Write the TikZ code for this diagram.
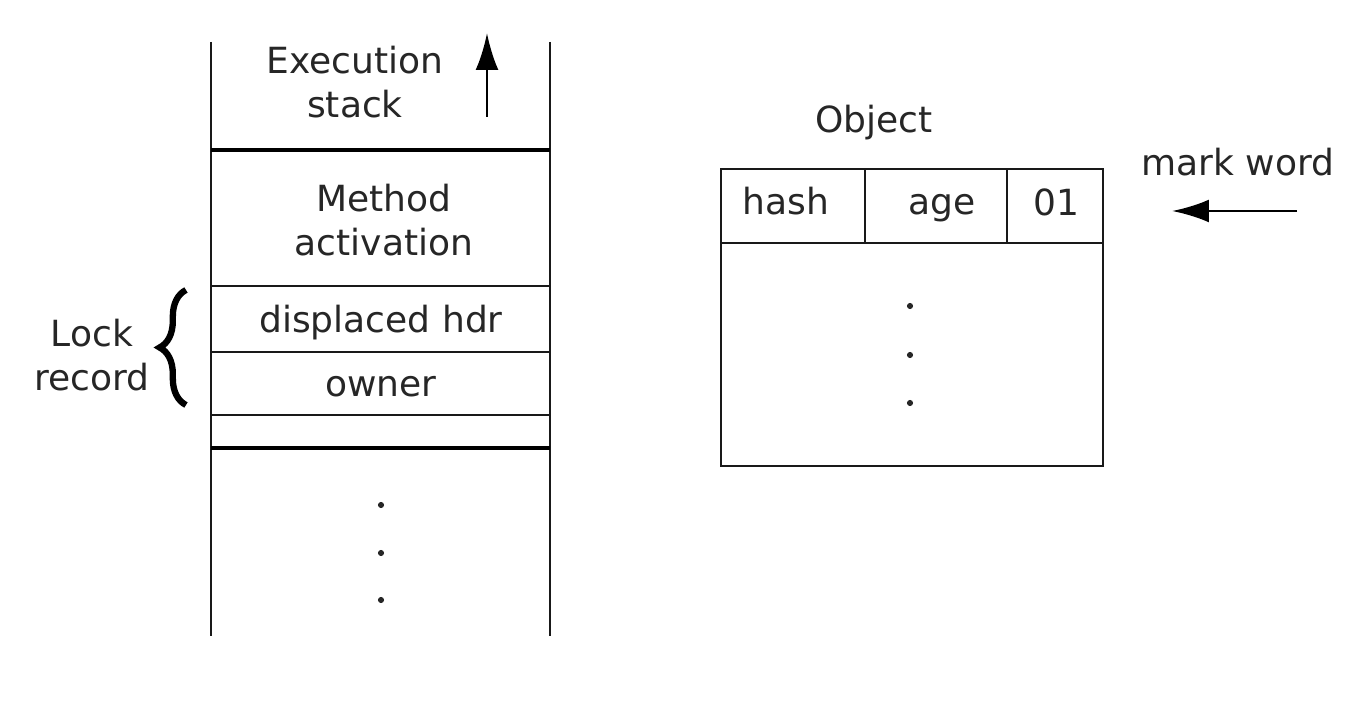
\documentclass[tikz,border=0pt]{standalone}
\usepackage{fontspec}
\setmainfont{DejaVu Sans}
\usepackage{tikz}
\usetikzlibrary{arrows.meta, positioning, decorations.pathreplacing}

\begin{document}
\begin{tikzpicture}
  [x=0.02cm, y=-0.02cm,
  txt/.style={font=\fontsize{20.5}{25}\selectfont, inner sep=0pt, text=black!85, align=center},
  line/.style={txt, anchor=base},
  thin line/.style={draw=black!90, line width=1.3pt},
  thick line/.style={draw=black, line width=2.8pt},
  dot/.style={circle, fill=black!85, inner sep=0pt, minimum size=3.5pt},
  tip/.style={-{Latex[length=21pt, width=13pt]}, line width=1.6pt}]
\useasboundingbox (0,0) rectangle (1366,705);

% Execution stack: walls and dividers
\draw[thin line] (211,42) -- (211,636);
\draw[thin line] (550,42) -- (550,636);
\draw[thick line] (211,150) -- (550,150);
\draw[thin line] (211,286) -- (550,286);
\draw[thin line] (211,352) -- (550,352);
\draw[thin line] (211,415) -- (550,415);
\draw[thick line] (211,448) -- (550,448);

% Stack labels
\node[txt] (exec) at (355,82) {Execution\\stack};
\node[txt] (meth) at (384,220) {Method\\activation};
\node[line] (disp) at (381,333) {displaced hdr};
\node[line] (own) at (381,397) {owner};
\node[dot] (sd1) at (381,505) {};
\node[dot] (sd2) at (381,553) {};
\node[dot] (sd3) at (381,600) {};

% Growth arrow
\coordinate (growlo) at (487,117);
\coordinate (growhi) at (487,33);
\draw[tip] (growlo) -- (growhi);

% Lock record brace
\coordinate (brlo) at (186,405);
\coordinate (brhi) at (186,290);
\draw[line width=3.6pt, decorate, decoration={brace, amplitude=15pt}] (brlo) -- (brhi);
\node[txt] (lock) at (92,355) {Lock\\record};

% Object header
\node[line] (obj) at (874,133) {Object};
\draw[thin line] (721,169) rectangle (1103,466);
\draw[thin line] (721,243) -- (1103,243);
\draw[thin line] (865,169) -- (865,243);
\draw[thin line] (1007,169) -- (1007,243);
\node[line] (hash) at (786,215) {hash};
\node[line] (age) at (942,215) {age};
\node[line] (bits) at (1056,216) {01};
\node[dot] (od1) at (910,306) {};
\node[dot] (od2) at (910,355) {};
\node[dot] (od3) at (910,403) {};

% Mark word pointer
\node[line] (mark) at (1238,176) {mark word};
\coordinate (mkfrom) at (1297,211);
\coordinate (mkto) at (1172,211);
\draw[tip] (mkfrom) -- (mkto);

\end{tikzpicture}
\end{document}
